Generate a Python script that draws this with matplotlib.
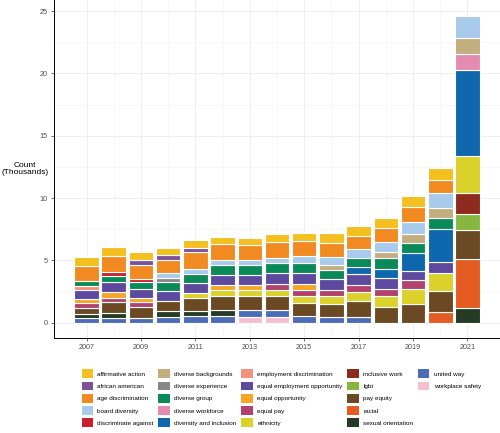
import numpy as np
import matplotlib.pyplot as plt
from matplotlib.patches import Patch

plt.rcParams['font.family'] = ['Liberation Sans', 'DejaVu Sans']

years = list(range(2007, 2022))

# counts in thousands, one list per term, one value per year (0 = not in that year's top ten)
affirmative_action           = [0.67, 0.67, 0.61, 0.54, 0.59, 0.54, 0.59, 0.64, 0.62, 0.75, 0.80, 0.80, 0.86, 0.94, 0]
african_american             = [0, 0, 0.38, 0.40, 0.35, 0, 0, 0, 0, 0, 0, 0, 0, 0, 0]
age_discrimination           = [1.20, 1.34, 1.15, 1.07, 1.34, 1.34, 1.20, 1.23, 1.20, 1.15, 1.07, 1.07, 1.20, 1.07, 0]
board_diversity              = [0, 0, 0, 0.40, 0.40, 0.40, 0.40, 0.46, 0.59, 0.64, 0.67, 0.80, 1.01, 1.20, 1.79]
discriminate_against         = [0, 0.32, 0.27, 0, 0, 0, 0, 0, 0, 0, 0, 0, 0, 0, 0]
diverse_backgrounds          = [0, 0, 0, 0, 0, 0, 0, 0, 0, 0.40, 0, 0.53, 0.67, 0.75, 1.24]
diverse_experience           = [0, 0, 0, 0.35, 0, 0, 0, 0, 0, 0, 0, 0, 0, 0, 0]
diverse_group                = [0.46, 0.48, 0.53, 0.67, 0.75, 0.80, 0.75, 0.75, 0.75, 0.75, 0.72, 0.83, 0.85, 0.88, 0]
diverse_workforce            = [0, 0, 0, 0, 0, 0, 0, 0, 0, 0, 0, 0, 0, 0, 1.33]
diversity_and_inclusion      = [0, 0, 0, 0, 0, 0, 0, 0, 0, 0, 0.56, 0.72, 1.42, 2.65, 6.88]
employment_discrimination    = [0.29, 0, 0, 0, 0, 0, 0, 0, 0, 0, 0, 0, 0, 0, 0]
equal_employment_opportunity = [0.72, 0.80, 0.75, 0.80, 0.80, 0.80, 0.86, 0.86, 0.93, 0.88, 0.91, 0.88, 0.75, 0.88, 0]
equal_opportunity            = [0.35, 0.45, 0.32, 0, 0, 0.40, 0.40, 0, 0.46, 0, 0, 0, 0, 0, 0]
equal_pay                    = [0.40, 0.35, 0.35, 0, 0, 0, 0, 0.54, 0.48, 0.46, 0.56, 0.59, 0.67, 0, 0]
ethnicity                    = [0, 0, 0, 0, 0.40, 0.45, 0.45, 0.45, 0.54, 0.62, 0.72, 0.86, 1.20, 1.47, 2.99]
inclusive_work               = [0, 0, 0, 0, 0, 0, 0, 0, 0, 0, 0, 0, 0, 0, 1.69]
lgbt                         = [0, 0, 0, 0, 0, 0, 0, 0, 0, 0, 0, 0, 0, 0, 1.26]
pay_equity                   = [0.45, 0.88, 0.91, 0.86, 1.07, 1.16, 1.16, 1.16, 1.07, 1.07, 1.28, 1.28, 1.52, 1.66, 2.35]
racial                       = [0, 0, 0, 0, 0, 0, 0, 0, 0, 0, 0, 0, 0, 0.88, 3.88]
sexual_orientation           = [0.32, 0.37, 0, 0.43, 0.40, 0.45, 0, 0, 0, 0, 0, 0, 0, 0, 1.20]
united_way                   = [0.38, 0.38, 0.38, 0.48, 0.51, 0.54, 0.53, 0.53, 0.54, 0.46, 0.46, 0, 0, 0, 0]
workplace_safety             = [0, 0, 0, 0, 0, 0, 0.46, 0.46, 0, 0, 0, 0, 0, 0, 0]

terms = ["affirmative action", "african american", "age discrimination", "board diversity",
         "discriminate against", "diverse backgrounds", "diverse experience", "diverse group",
         "diverse workforce", "diversity and inclusion", "employment discrimination",
         "equal employment opportunity", "equal opportunity", "equal pay", "ethnicity",
         "inclusive work", "lgbt", "pay equity", "racial", "sexual orientation",
         "united way", "workplace safety"]
series = [affirmative_action, african_american, age_discrimination, board_diversity,
          discriminate_against, diverse_backgrounds, diverse_experience, diverse_group,
          diverse_workforce, diversity_and_inclusion, employment_discrimination,
          equal_employment_opportunity, equal_opportunity, equal_pay, ethnicity,
          inclusive_work, lgbt, pay_equity, racial, sexual_orientation,
          united_way, workplace_safety]
colors = ["#F3C01F", "#7D509C", "#F18A21", "#A8CBEC", "#C8202F", "#C3AE80", "#878787",
          "#0A8A58", "#E68BB0", "#0F67AD", "#F3917A", "#5D4A9E", "#F6A623", "#B2416F",
          "#DAD22B", "#8E2B1E", "#86B540", "#6B4A23", "#E45C22", "#253B23",
          "#4D6CB8", "#F5BFD0"]

fig = plt.figure(figsize=(5, 4.33), dpi=100)
ax = fig.add_axes([0.108, 0.2194, 0.892, 0.7806])

# first term on top of the stack, like ggplot
x = np.array(years)
bottom = np.zeros(len(years))
for name, vals, col in reversed(list(zip(terms, series, colors))):
    v = np.array(vals, dtype=float)
    m = v > 0
    ax.bar(x[m], v[m], bottom=bottom[m], width=0.9, color=col,
           edgecolor="white", linewidth=0.8, zorder=3)
    bottom += v

ax.set_xlim(2005.805, 2022.195)
ax.set_ylim(-1.23, 25.89)
ax.set_xticks(range(2007, 2022, 2))
ax.set_xticks(range(2008, 2022, 2), minor=True)
ax.set_yticks([0, 5, 10, 15, 20, 25])
ax.set_yticks([2.5, 7.5, 12.5, 17.5, 22.5], minor=True)
ax.grid(which="major", color="#EBEBEB", linewidth=0.6, zorder=0)
ax.grid(which="minor", color="#F2F2F2", linewidth=0.4, zorder=0)
ax.tick_params(which="minor", length=0)
ax.tick_params(which="major", length=2.5, width=0.5, color="#333333",
               labelsize=5.2, labelcolor="#4D4D4D", pad=2)
for s in ["top", "right"]:
    ax.spines[s].set_visible(False)
for s in ["left", "bottom"]:
    ax.spines[s].set_linewidth(0.7)
    ax.spines[s].set_color("black")

ax.set_ylabel("Count\n(Thousands)", rotation=0, fontsize=6, ha="center", va="center",
              linespacing=1.1)
ax.yaxis.set_label_coords(-0.066, 0.5)

handles = [Patch(facecolor=c, edgecolor="none") for c in colors]
labels = list(terms)
for _ in range(3):
    handles.append(Patch(visible=False))
    labels.append("")
fig.legend(handles, labels, ncol=5, loc="upper left", bbox_to_anchor=(0.163, 0.147),
           frameon=False, fontsize=4.6, handlelength=1.75, handleheight=1.75,
           handletextpad=0.75, labelspacing=0.54, columnspacing=0.72,
           borderaxespad=0, borderpad=0)

fig.savefig("out.png", dpi=100)
